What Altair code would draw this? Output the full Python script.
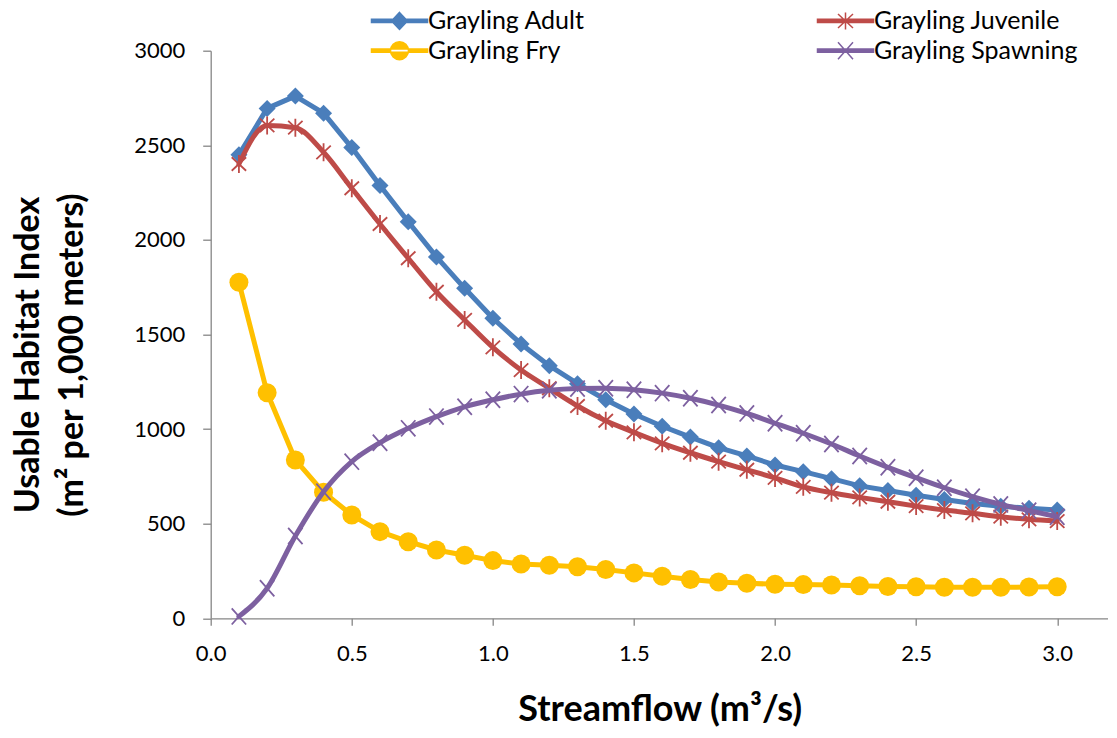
import altair as alt
import pandas as pd

FONT = "Lato"

# ---- data ----
flow = [0.1, 0.2, 0.3, 0.4, 0.5, 0.6, 0.7, 0.8, 0.9, 1.0,
        1.1, 1.2, 1.3, 1.4, 1.5, 1.6, 1.7, 1.8, 1.9, 2.0,
        2.1, 2.2, 2.3, 2.4, 2.5, 2.6, 2.7, 2.8, 2.9, 3.0]

adult = [2450, 2695, 2760, 2670, 2488, 2288, 2096, 1910, 1744, 1586,
         1450, 1335, 1240, 1155, 1080, 1015, 958, 902, 858, 810,
         775, 738, 700, 675, 650, 628, 607, 592, 582, 572]

juvenile = [2401, 2605, 2593, 2463, 2273, 2084, 1903, 1726, 1577, 1432,
            1312, 1216, 1122, 1044, 983, 925, 875, 828, 785, 742,
            695, 664, 639, 616, 593, 572, 555, 537, 523, 514]

fry = [1776, 1192, 837, 666, 546, 458, 405, 361, 333, 305,
       287, 280, 272, 258, 240, 222, 205, 192, 185, 180,
       178, 176, 172, 168, 167, 164, 164, 164, 165, 167]

spawning = [10, 159, 435, 669, 828, 928, 1004, 1066, 1118, 1155,
            1185, 1205, 1214, 1216, 1208, 1190, 1163, 1127, 1083, 1031,
            978, 921, 858, 798, 743, 690, 643, 602, 569, 537]

series_names = ["Grayling Adult", "Grayling Juvenile", "Grayling Fry", "Grayling Spawning"]
series_values = [adult, juvenile, fry, spawning]
colors = ["#4A7EBB", "#BE4B48", "#FFC000", "#7D60A0"]

x_ticks = [0.0, 0.5, 1.0, 1.5, 2.0, 2.5, 3.0]
y_ticks = [0, 500, 1000, 1500, 2000, 2500, 3000]

rows = []
for name, vals in zip(series_names, series_values):
    for f, v in zip(flow, vals):
        rows.append({"flow": f, "uhi": v, "series": name})
df = pd.DataFrame(rows)

# ---- marker shapes ----
AST = "M0,-1V1M-0.8,-0.75L0.8,0.75M-0.8,0.75L0.8,-0.75"
XSH = "M-0.8,-0.9L0.8,0.9M-0.8,0.9L0.8,-0.9"

markers = {
    "Grayling Adult": dict(shape="diamond", filled=True, size=289, interp="linear"),
    "Grayling Juvenile": dict(shape=AST, filled=False, size=324, interp="monotone"),
    "Grayling Fry": dict(shape="circle", filled=True, size=361, interp="linear"),
    "Grayling Spawning": dict(shape=XSH, filled=False, size=324, interp="monotone"),
}

# legend symbols: short thick line + marker
LINE = "M-2.8,-0.16H2.8V0.16H-2.8Z"
leg_paths = [
    LINE + "M0,-0.85L0.8,0L0,0.85L-0.8,0Z",
    LINE + "M0,-0.85V0.85M-0.75,-0.7L0.75,0.7M-0.75,0.7L0.75,-0.7",
    LINE + "M-0.9,0A0.9,0.9 0 1,0 0.9,0A0.9,0.9 0 1,0 -0.9,0Z",
    LINE + "M-0.75,-0.85L0.75,0.85M-0.75,0.85L0.75,-0.85",
]

legend = alt.Legend(
    title=None,
    orient="none",
    direction="horizontal",
    legendX=158.3,
    legendY=-42.5,
    columns=2,
    columnPadding=229,
    rowPadding=4,
    padding=0,
    symbolSize=400,
    symbolOffset=18,
    labelOffset=16,
    labelLimit=400,
    labelFont=FONT,
    labelFontSize=25,
    labelColor="black",
)

x_enc = alt.X(
    "flow:Q",
    scale=alt.Scale(domain=[0, 3.18], nice=False, zero=False),
    axis=alt.Axis(
        values=x_ticks,
        format=".1f",
        labelFlush=False,
        title="Streamflow (m³/s)",
        titleFontSize=36,
        titleX=449,
        titleY=102.5,
        titleAlign="center",
        titleBaseline="alphabetic",
        tickSize=7,
        labelPadding=18,
        grid=False,
    ),
)
y_enc = alt.Y(
    "uhi:Q",
    scale=alt.Scale(domain=[0, 3000], nice=False),
    axis=alt.Axis(
        values=y_ticks,
        format="d",
        labelFlush=False,
        title=["Usable Habitat Index", "(m² per 1,000 meters)"],
        titleFontSize=34,
        titleAngle=270,
        titleAlign="center",
        titleBaseline="alphabetic",
        titleX=-172.5,
        titleY=303.8,
        titleLineHeight=44,
        tickSize=8,
        labelPadding=18,
        grid=False,
    ),
)

base = alt.Chart(df)
layers = []
for name, col in zip(series_names, colors):
    m = markers[name]
    sub = base.transform_filter(alt.datum.series == name)
    line = sub.mark_line(
        color=col, strokeWidth=5, interpolate=m["interp"], strokeJoin="round", strokeCap="round"
    ).encode(x=x_enc, y=y_enc)
    if m["filled"]:
        pts = sub.mark_point(
            shape=m["shape"], filled=True, color=col, size=m["size"], opacity=1, strokeWidth=0
        ).encode(x=x_enc, y=y_enc)
    else:
        pts = sub.mark_point(
            shape=m["shape"], filled=False, color=col, size=m["size"], opacity=1, strokeWidth=1.8
        ).encode(x=x_enc, y=y_enc)
    layers += [line, pts]

# legend-only layer (no rows drawn; the legend comes from the scales' domains)
legend_layer = base.transform_filter("false").mark_point(
    filled=True, opacity=1, strokeWidth=1.5, size=400
).encode(
    x=x_enc,
    y=y_enc,
    fill=alt.Fill("series:N", scale=alt.Scale(domain=series_names, range=colors), legend=legend),
    stroke=alt.Stroke("series:N", scale=alt.Scale(domain=series_names, range=colors), legend=legend),
    shape=alt.Shape("series:N", scale=alt.Scale(domain=series_names, range=leg_paths), legend=legend),
)
layers.append(legend_layer)

chart = (
    alt.layer(*layers)
    .properties(
        width=897.3,
        height=567.6,
        padding={"left": 202.7, "top": 42.7, "right": 0, "bottom": 109.7},
        autosize=alt.AutoSizeParams(type="none"),
        background="white",
    )
    .configure_view(stroke=None)
    .configure_axis(
        labelFont=FONT,
        labelFontSize=22,
        labelColor="black",
        titleFont=FONT,
        titleFontWeight="bold",
        titleColor="black",
        domainColor="#868686",
        domainWidth=1.3,
        tickColor="#868686",
        tickWidth=1.3,
    )
)

chart.save("out.html", embed_options={"renderer": "svg", "actions": False})
